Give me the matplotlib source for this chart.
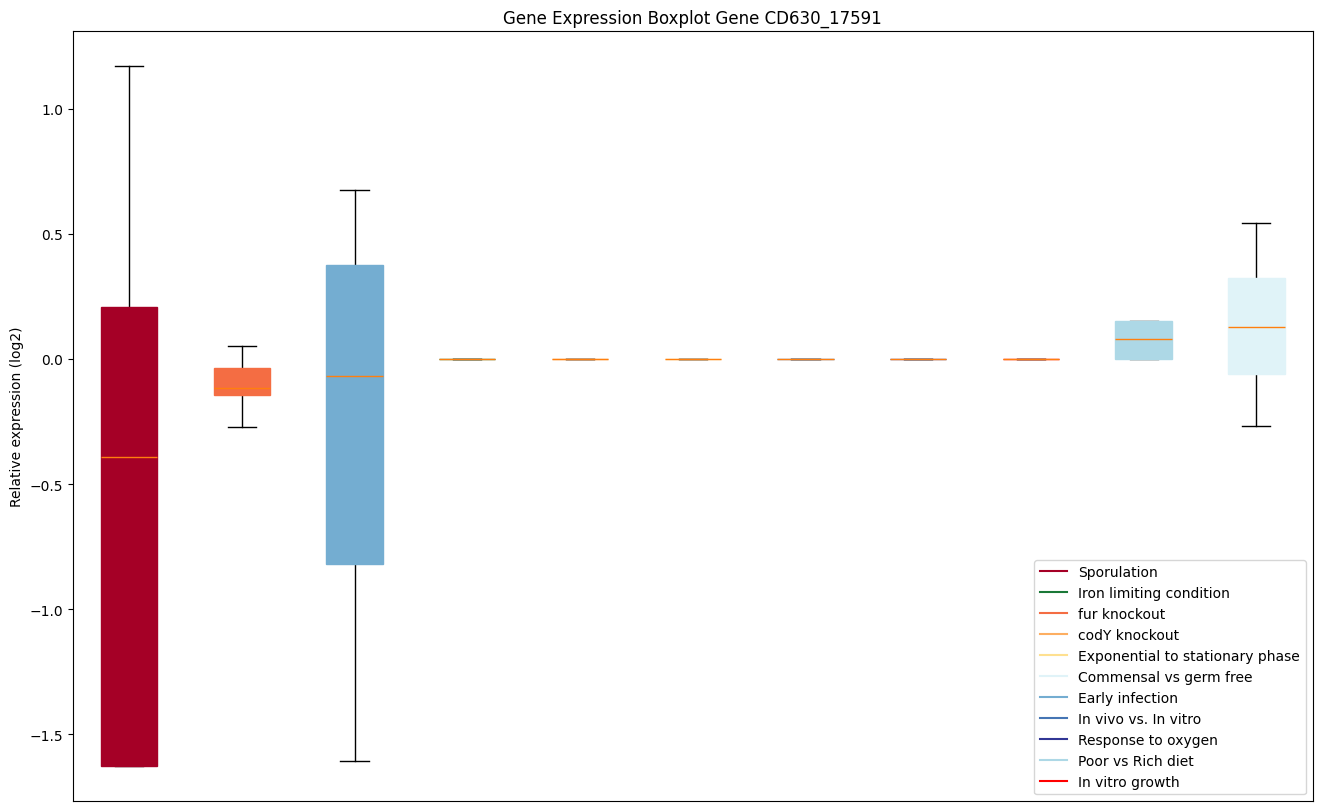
import numpy as np
import matplotlib.pyplot as plt

# Données (une boîte par condition)
conditions = ['Sporulation', 'Iron limiting condition', 'fur knockout', 'codY knockout',
              'Exponential to stationary phase', 'Commensal vs germ free', 'Early infection',
              'In vivo vs. In vitro', 'Response to oxygen', 'Poor vs Rich diet', 'In vitro growth']
legend_colors = ['#a50026', '#1a7837', '#f46d43', '#fdae61', '#fee090', '#e0f3f8',
                 '#74add1', '#4575b4', '#313695', 'lightblue', 'red']

box_colors = ['#a50026', '#f46d43', '#74add1', '#1a7837', '#fdae61', '#fee090',
              '#4575b4', '#313695', 'red', 'lightblue', '#e0f3f8']
whislo = [-1.628, -0.272, -1.608, 0, 0, 0, 0, 0, 0, 0.0, -0.268]
q1 = [-1.628, -0.144, -0.820, 0, 0, 0, 0, 0, 0, 0.0, -0.060]
med = [-0.392, -0.118, -0.068, 0, 0, 0, 0, 0, 0, 0.080, 0.128]
q3 = [0.208, -0.036, 0.376, 0, 0, 0, 0, 0, 0, 0.152, 0.324]
whishi = [1.172, 0.052, 0.676, 0, 0, 0, 0, 0, 0, 0.152, 0.544]

stats = []
for i in range(len(med)):
    stats.append({'whislo': whislo[i], 'q1': q1[i], 'med': med[i],
                  'q3': q3[i], 'whishi': whishi[i], 'fliers': []})

fig, ax = plt.subplots(figsize=(13.22, 8.12), dpi=100)
bp = ax.bxp(stats, patch_artist=True, showfliers=False)
for patch, c in zip(bp['boxes'], box_colors):
    patch.set_facecolor(c)
    patch.set_edgecolor(c)
    patch.set_zorder(3)
for m in bp['medians']:
    m.set_zorder(4)

for name, c in zip(conditions, legend_colors):
    ax.plot([], [], color=c, label=name)
ax.legend(loc='lower right')

ax.set_xticks([])
ax.set_ylim(-1.768, 1.312)
ax.set_title('Gene Expression Boxplot Gene CD630_17591')
ax.set_ylabel('Relative expression (log2)')
fig.subplots_adjust(left=0.055, right=0.993, top=0.961, bottom=0.012)
fig.savefig('out.png')
